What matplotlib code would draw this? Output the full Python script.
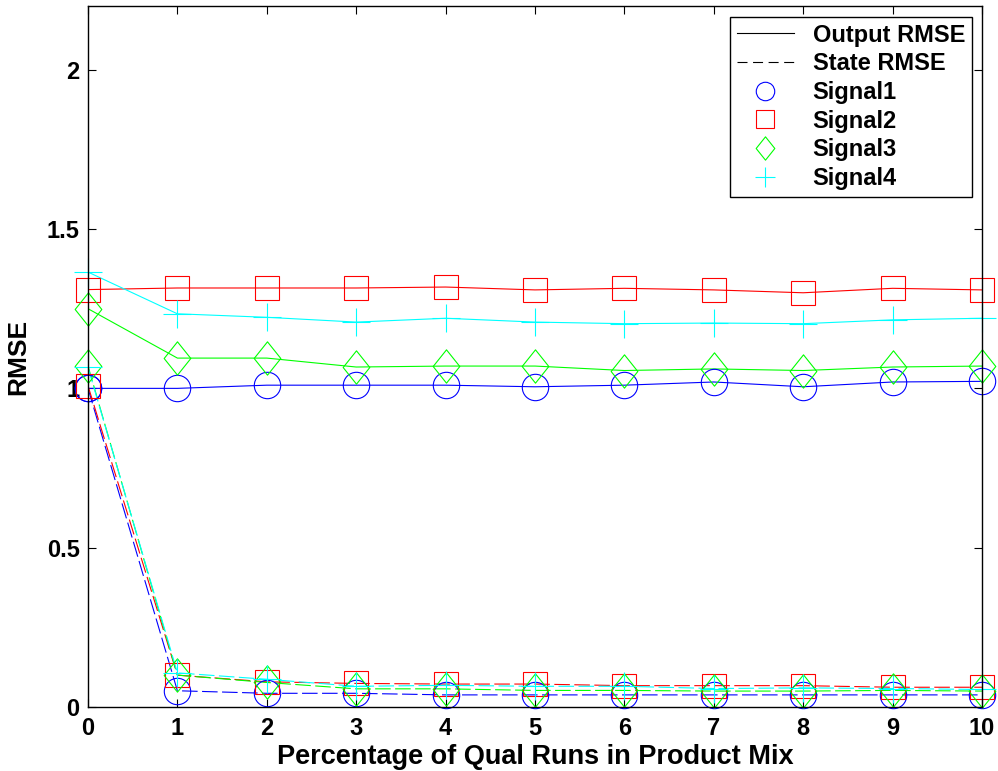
import matplotlib
matplotlib.use('Agg')
import matplotlib.pyplot as plt
from matplotlib.lines import Line2D
from matplotlib.path import Path

plt.rcParams['font.family'] = ['Liberation Sans', 'DejaVu Sans']
plt.rcParams['font.weight'] = 'bold'

x = [0, 1, 2, 3, 4, 5, 6, 7, 8, 9, 10]

# output RMSE (solid)
out_sig1 = [1.00, 1.00, 1.01, 1.01, 1.01, 1.005, 1.01, 1.02, 1.005, 1.02, 1.022]
out_sig2 = [1.31, 1.315, 1.315, 1.315, 1.318, 1.309, 1.314, 1.309, 1.30, 1.314, 1.309]
out_sig3 = [1.25, 1.095, 1.095, 1.067, 1.07, 1.07, 1.056, 1.061, 1.056, 1.067, 1.07]
out_sig4 = [1.365, 1.234, 1.223, 1.208, 1.22, 1.208, 1.203, 1.205, 1.203, 1.215, 1.22]

# state RMSE (dashed)
st_sig1 = [1.00, 0.051, 0.043, 0.043, 0.038, 0.038, 0.038, 0.038, 0.038, 0.038, 0.038]
st_sig2 = [1.008, 0.10, 0.079, 0.074, 0.072, 0.072, 0.067, 0.067, 0.067, 0.062, 0.062]
st_sig3 = [1.07, 0.10, 0.077, 0.057, 0.057, 0.052, 0.052, 0.05, 0.05, 0.052, 0.05]
st_sig4 = [1.066, 0.107, 0.087, 0.065, 0.068, 0.065, 0.065, 0.058, 0.06, 0.058, 0.055]

labels = ["Signal1", "Signal2", "Signal3", "Signal4"]
colors = ["#0000ff", "#ff0000", "#00ff00", "#00ffff"]

# tall diamond like matlab's
diamond = Path([(0, 1), (0.8, 0), (0, -1), (-0.8, 0), (0, 1)],
               [Path.MOVETO, Path.LINETO, Path.LINETO, Path.LINETO, Path.CLOSEPOLY])
markers = ["o", "s", diamond, "+"]
msizes = [19, 17.5, 24, 20]

fig = plt.figure(figsize=(9.98, 7.71), dpi=100)
ax = fig.add_axes([88/998, 64/771, 894/998, 701/771])

outs = [out_sig1, out_sig2, out_sig3, out_sig4]
sts = [st_sig1, st_sig2, st_sig3, st_sig4]
for i in range(4):
    ax.plot(x, outs[i], '-', color=colors[i], lw=0.8)
    ax.plot(x, sts[i], color=colors[i], lw=0.8, dashes=(14, 4))
for i in range(4):
    for ys in (outs[i], sts[i]):
        ax.plot(x, ys, ls='none', marker=markers[i], ms=msizes[i], mfc='none',
                mec=colors[i], mew=0.8, clip_on=False)

ax.set_xlim(0, 10)
ax.set_ylim(0, 2.2)
ax.set_xticks(range(0, 11))
ax.set_yticks([0, 0.5, 1, 1.5, 2])
ax.set_yticklabels(["0", "0.5", "1", "1.5", "2"])
ax.tick_params(direction='in', length=6, width=0.8, top=True, right=True,
               labelsize=17)
ax.tick_params(axis='x', pad=7)
ax.tick_params(axis='y', pad=6)
for s in ax.spines.values():
    s.set_linewidth(1.0)
ax.set_xlabel("Percentage of Qual Runs in Product Mix", fontsize=19.5, fontweight='bold', labelpad=3)
ax.set_ylabel("RMSE", fontsize=19, fontweight='bold', labelpad=12)

handles = [Line2D([], [], color='black', lw=0.8, ls='-'),
           Line2D([], [], color='black', lw=0.8, dashes=(9, 5))]
for i in range(4):
    handles.append(Line2D([], [], ls='none', marker=markers[i], ms=msizes[i]*0.7,
                          mfc='none', mec=colors[i], mew=0.8))
leg = ax.legend(handles, ["Output RMSE", "State RMSE"] + labels, loc='upper right',
                bbox_to_anchor=(0.989, 0.985), borderaxespad=0, fontsize=17,
                fancybox=False, framealpha=1, edgecolor='black',
                handlelength=2.4, labelspacing=0.24, borderpad=0.3, handletextpad=0.8)
leg.get_frame().set_linewidth(1.0)

fig.savefig("out.png", dpi=100)
